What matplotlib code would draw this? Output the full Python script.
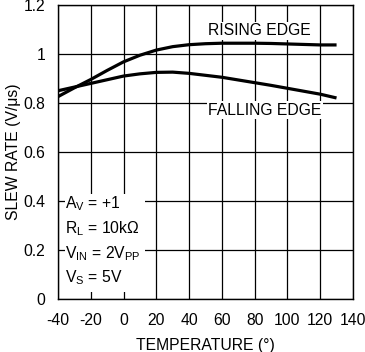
import matplotlib
matplotlib.use('Agg')
import matplotlib.pyplot as plt
from matplotlib.patches import Rectangle

plt.rcParams['font.family'] = ['Liberation Sans', 'DejaVu Sans']
plt.rcParams['mathtext.fontset'] = 'custom'
plt.rcParams['mathtext.rm'] = 'Liberation Sans'
plt.rcParams['axes.unicode_minus'] = False

# 曲线数据
temp = [-40, -30, -20, -10, 0, 10, 20, 30, 40, 50, 60, 70, 80, 90, 100, 110, 120, 129]
rising = [0.826, 0.862, 0.896, 0.933, 0.968, 0.995, 1.016, 1.030, 1.038, 1.042, 1.044, 1.044,
          1.044, 1.043, 1.041, 1.039, 1.037, 1.037]
falling = [0.850, 0.865, 0.880, 0.895, 0.910, 0.919, 0.925, 0.926, 0.921, 0.913, 0.905, 0.894,
           0.883, 0.872, 0.860, 0.848, 0.836, 0.822]

x_ticks = [-40, -20, 0, 20, 40, 60, 80, 100, 120, 140]
y_ticks = [0, 0.2, 0.4, 0.6, 0.8, 1.0, 1.2]
y_labels = ['0', '0.2', '0.4', '0.6', '0.8', '1', '1.2']

cond_text = [r'A$_\mathrm{V}$ = +1', r'R$_\mathrm{L}$ = 10k$\Omega$',
             r'V$_\mathrm{IN}$ = 2V$_\mathrm{PP}$', r'V$_\mathrm{S}$ = 5V']
cond_y = [0.37, 0.268, 0.165, 0.07]

fig = plt.figure(figsize=(3.65, 3.52), dpi=100)
ax = fig.add_axes([58 / 365, 1 - 299 / 352, 295 / 365, 294 / 352])

ax.set_xlim(-40, 140)
ax.set_ylim(0, 1.2)
ax.set_xticks(x_ticks)
ax.set_yticks(y_ticks)
ax.set_yticklabels(y_labels)
ax.tick_params(length=0, labelsize=11.3, colors='black')
ax.tick_params(axis='x', pad=10)
ax.tick_params(axis='y', pad=9)
ax.grid(True, color='black', lw=0.9)
ax.set_axisbelow(True)
for s in ax.spines.values():
    s.set_linewidth(1.0)

ax.plot(temp, rising, color='black', lw=2.3, zorder=3)
ax.plot(temp, falling, color='black', lw=2.3, zorder=3)

# 条件说明区域遮住网格线
ax.add_patch(Rectangle((-35.5, 0.03), 48.5, 0.4, facecolor='white', edgecolor='none', zorder=2))
for t, yy in zip(cond_text, cond_y):
    ax.text(-35.5, yy, t, fontsize=11.3, va='baseline', ha='left', zorder=4)

ax.text(51.5, 1.095, 'RISING EDGE', fontsize=11.3, va='center', ha='left', zorder=4,
        bbox=dict(facecolor='white', edgecolor='none', pad=1))
ax.text(51.5, 0.771, 'FALLING EDGE', fontsize=11.3, va='center', ha='left', zorder=4,
        bbox=dict(facecolor='white', edgecolor='none', pad=1))

ax.set_xlabel('TEMPERATURE (°)', fontsize=11.3, labelpad=7)
ax.set_ylabel('SLEW RATE (V/μs)', fontsize=11.3, labelpad=2)

fig.savefig('out.png', dpi=100, facecolor='white')
